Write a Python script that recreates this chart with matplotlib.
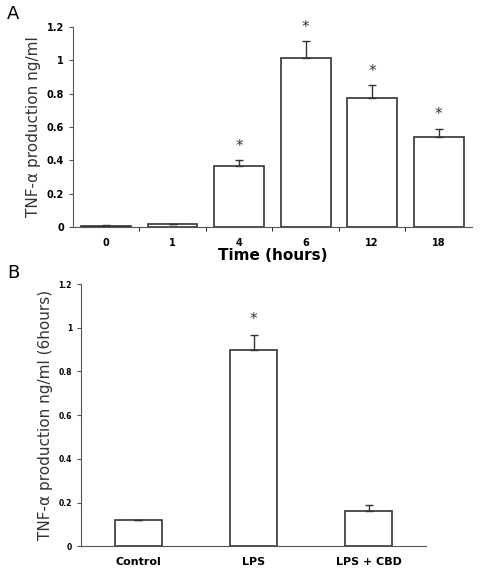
import matplotlib
matplotlib.use("Agg")
import matplotlib.pyplot as plt

time_labels = ["0", "1", "4", "6", "12", "18"]
time_vals = [0.005, 0.02, 0.365, 1.015, 0.775, 0.54]
time_err = [0.005, 0.0, 0.035, 0.1, 0.075, 0.05]
time_sig = [False, False, True, True, True, True]

treat_labels = ["Control", "LPS", "LPS + CBD"]
treat_vals = [0.12, 0.90, 0.16]
treat_err = [0.002, 0.065, 0.03]
treat_sig = [False, True, False]

fig = plt.figure(figsize=(4.82, 5.75), dpi=100)
axA = fig.add_axes([0.151, 0.605, 0.828, 0.348])
axB = fig.add_axes([0.168, 0.050, 0.716, 0.456])

def panel(ax, labels, vals, err, sig, width, tickfs, labfs, ylabel):
    x = list(range(len(vals)))
    ax.bar(x, vals, width=width, color="white", edgecolor="#333333", linewidth=1.2,
           yerr=[[0]*len(vals), err], error_kw=dict(ecolor="#333333", elinewidth=1.0, capsize=3, capthick=1.0))
    for xi, v, e, s in zip(x, vals, err, sig):
        if s:
            ax.text(xi, v + e + 0.04, "*", ha="center", va="bottom", fontsize=11, color="#333333")
    ax.set_xlim(-0.5, len(vals) - 0.5)
    ax.set_ylim(0, 1.2)
    ax.set_yticks([0, 0.2, 0.4, 0.6, 0.8, 1.0, 1.2])
    ax.set_yticklabels(["0", "0.2", "0.4", "0.6", "0.8", "1", "1.2"], fontsize=tickfs, fontweight="bold")
    ax.set_xticks(x)
    ax.set_xticklabels(labels, fontsize=labfs, fontweight="bold")
    ax.spines["top"].set_visible(False)
    ax.spines["right"].set_visible(False)
    for sp in ("left", "bottom"):
        ax.spines[sp].set_color("#555555")
    ax.tick_params(axis="x", length=0, pad=8)
    ax.tick_params(axis="y", length=3, color="#555555")
    ax.set_ylabel(ylabel, fontsize=11, color="#333333")

panel(axA, time_labels, time_vals, time_err, time_sig, 0.75, 7, 7, "TNF-α production ng/ml")
axA.set_xticks([i + 0.5 for i in range(5)], minor=True)
axA.tick_params(axis="x", which="minor", length=3)
axA.set_xlabel("Time (hours)", fontsize=11, fontweight="bold", labelpad=0)
panel(axB, treat_labels, treat_vals, treat_err, treat_sig, 0.41, 5.5, 8, "TNF-α production ng/ml (6hours)")

fig.text(0.015, 0.975, "A", fontsize=13, va="center")
fig.text(0.015, 0.525, "B", fontsize=13, va="center")
fig.savefig("out.png", dpi=100)
